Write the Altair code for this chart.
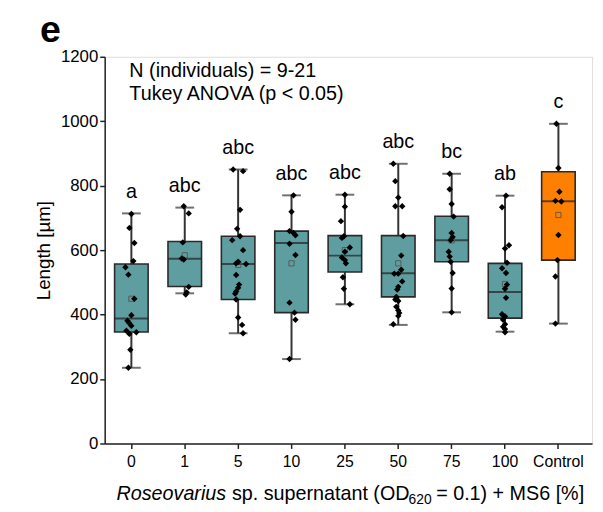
import altair as alt
import pandas as pd

groups = ["0", "1", "5", "10", "25", "50", "75", "100", "Control"]
letters = ["a", "abc", "abc", "abc", "abc", "abc", "bc", "ab", "c"]
box_lo = [235, 466, 342, 262, 432, 368, 407, 347, 372]
box_q1 = [346, 487, 447, 406, 532, 455, 564, 389, 569]
box_med = [388, 573, 557, 622, 583, 528, 631, 470, 752]
box_q3 = [557, 627, 643, 659, 645, 645, 705, 559, 843]
box_hi = [714, 732, 850, 770, 772, 868, 837, 769, 992]
box_mean = [449, 584, 554, 559, 600, 559, 630, 495, 709]
fills = ["#5F9EA0"] * 8 + ["#FF8000"]

pts_values = {
    "0": [712, 669, 622, 566, 547, 524, 449, 398, 381, 373, 365, 350, 345, 340, 291, 235],
    "1": [736, 714, 624, 574, 571, 486, 469, 462],
    "5": [850, 845, 725, 666, 643, 631, 600, 564, 559, 557, 523, 493, 483, 472, 465, 447, 391, 368, 342],
    "10": [770, 719, 659, 653, 646, 620, 585, 437, 406, 384, 262],
    "25": [772, 735, 690, 638, 643, 608, 595, 577, 569, 559, 516, 480, 432],
    "50": [868, 814, 763, 736, 736, 644, 583, 539, 527, 527, 503, 486, 478, 455, 447, 442, 424, 413, 405, 396, 370],
    "75": [837, 789, 743, 704, 653, 641, 631, 595, 580, 564, 529, 481, 407],
    "100": [769, 733, 605, 615, 561, 544, 529, 493, 480, 452, 401, 394, 384, 370, 362, 355, 345],
    "Control": [992, 855, 781, 753, 751, 647, 569, 518, 372],
}
pts_jitter = {
    "0": [0, -2, 3, 2, -6, -3, 3, 0, -4, -2, 0, -5, 5, -2, -1, -3],
    "1": [-1, 4, -2, -3, -1, 4, 2, 1],
    "5": [-5, 5, 2, -1, 2, -6, 5, 0, -2, 8, -2, 1, 0, -2, -3, -2, 0, 4, 5],
    "10": [2, 0, -2, 2, 4, -2, 4, -2, 3, 4, -2],
    "25": [0, 0, -4, -3, -1, 5, 0, -3, 0, 1, -2, -1, 5],
    "50": [-5, -3, 0, -3, 4, 5, 3, 3, -4, 0, 4, 0, -1, -2, -3, 0, -2, 0, 1, 0, -5],
    "75": [-2, -2, 0, 2, 0, 1, -1, -3, -2, -1, 1, 0, 0],
    "100": [1, -3, 0, 4, 2, -3, 1, 2, 0, 1, -3, 0, -2, 0, -2, 0, 0],
    "Control": [-2, 0, 1, -3, 3, 0, -1, -3, -3],
}
y_ticks = [0, 100, 200, 300, 400, 500, 600, 700, 800, 900, 1000, 1100, 1200]

stats = pd.DataFrame({
    "group": groups, "letter": letters, "lo": box_lo, "q1": box_q1,
    "med": box_med, "q3": box_q3, "hi": box_hi, "mean": box_mean, "fill": fills,
})
rows = []
for g in groups:
    for v, j in zip(pts_values[g], pts_jitter[g]):
        rows.append({"group": g, "value": v, "jit": j})
pts = pd.DataFrame(rows)

FONT = "Liberation Sans"
x_enc = alt.X(
    "group:N", sort=groups,
    scale=alt.Scale(paddingInner=0, paddingOuter=0.065, align=0),
    axis=alt.Axis(title=None, labelAngle=0, labelFontSize=16, labelPadding=5,
                  tickSize=5, tickColor="#222", domainColor="#222", domainWidth=1.5,
                  tickWidth=1.5, labelColor="black"),
)
y_scale = alt.Scale(domain=[0, 1200], nice=False)

base = alt.Chart(stats)

whisk_lo = base.mark_rule(color="#333", strokeWidth=2).encode(
    x=x_enc,
    y=alt.Y("lo:Q", scale=y_scale, title="Length [µm]",
            axis=alt.Axis(values=y_ticks, format="d",
                          labelExpr="datum.value % 200 === 0 ? datum.label : ''",
                          tickSize={"condition": {"test": "datum.value % 200 === 0", "value": 5}, "value": 3},
                          labelFontSize=17, titleFontSize=19, titleFontWeight="normal",
                          titlePadding=7, tickColor="#222", domainColor="#222",
                          domainWidth=1.5, tickWidth=1.5, labelColor="black",
                          titleColor="black", grid=False)),
    y2="q1:Q",
)
whisk_hi = base.mark_rule(color="#333", strokeWidth=2).encode(
    x=x_enc, y=alt.Y("q3:Q", scale=y_scale), y2="hi:Q")
cap_lo = base.mark_tick(color="#333", size=19, thickness=2).encode(
    x=x_enc, y=alt.Y("lo:Q", scale=y_scale))
cap_hi = base.mark_tick(color="#333", size=19, thickness=2).encode(
    x=x_enc, y=alt.Y("hi:Q", scale=y_scale))
box = base.mark_bar(size=34, stroke="#2a2a2a", strokeWidth=1.6).encode(
    x=x_enc, y=alt.Y("q1:Q", scale=y_scale), y2="q3:Q",
    color=alt.Color("fill:N", scale=None))
med = base.mark_tick(color="#222", size=34, thickness=2).encode(
    x=x_enc, y=alt.Y("med:Q", scale=y_scale))
mean = base.mark_point(shape="square", filled=False, size=28, stroke="#555",
                       strokeWidth=1, opacity=0.9).encode(
    x=x_enc, y=alt.Y("mean:Q", scale=y_scale))
points = alt.Chart(pts).mark_point(shape="diamond", filled=True, size=42,
                                   color="black", opacity=1).encode(
    x=x_enc,
    xOffset=alt.XOffset("jit:Q", scale=alt.Scale(domain=[-27, 27])),
    y=alt.Y("value:Q", scale=y_scale))
lett = base.mark_text(fontSize=20, dy=-22, font=FONT, color="black",
                      baseline="middle").encode(
    x=x_enc, y=alt.Y("hi:Q", scale=y_scale), text="letter:N")

ann_df = pd.DataFrame({"a": [0]})
def txt(s, x, y, size, align="left", **kw):
    return alt.Chart(ann_df).mark_text(text=s, fontSize=size, font=FONT, align=align,
                                       baseline="middle", color="black", **kw).encode(
        x=alt.value(x), y=alt.value(y))

ann = [
    txt("N (individuals) = 9-21", 25, 14, 20),
    txt("Tukey ANOVA (p < 0.05)", 25, 38, 20),
    txt("e", -55, -26, 38, align="center", fontWeight="bold"),
    txt("Roseovarius", 12, 443, 20, fontStyle="italic"),
    txt("sp. supernatant (OD", 129, 443, 20),
    txt("620", 308, 449, 14),
    txt("= 0.1) + MS6 [%]", 336, 443, 20),
]

chart = alt.layer(whisk_lo, whisk_hi, cap_lo, cap_hi, box, med, mean, points, lett, *ann).properties(
    width=494, height=392,
    autosize=alt.AutoSizeParams(type="none"),
    padding={"left": 98, "top": 46, "right": 3, "bottom": 66},
).configure_view(stroke=None).configure(font=FONT)

chart.save("out.html", embed_options={"renderer": "svg", "actions": False})
